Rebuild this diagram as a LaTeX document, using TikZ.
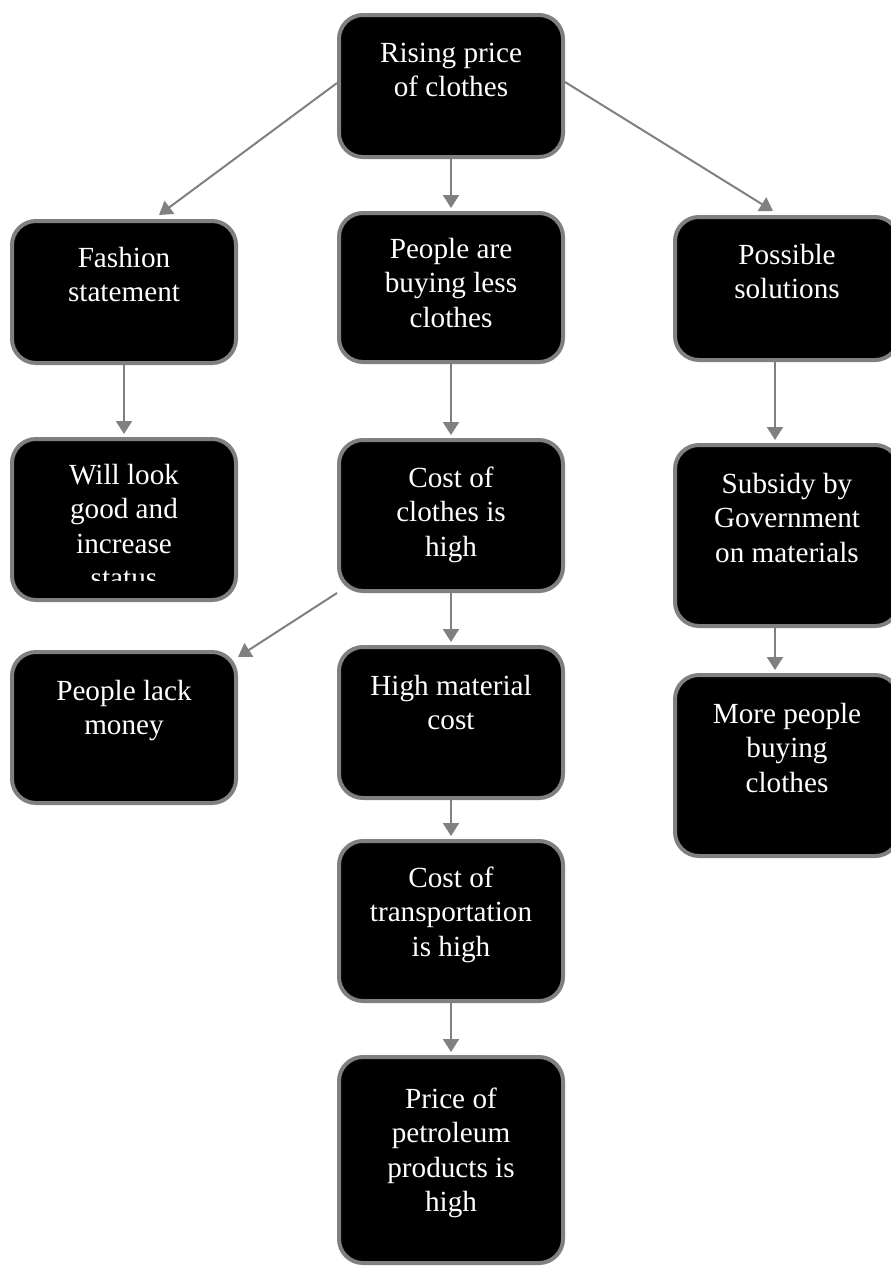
\documentclass[tikz,border=0pt]{standalone}
\usepackage{fontspec}
\setmainfont{Liberation Serif}
\usetikzlibrary{arrows.meta,calc}
\definecolor{edgegray}{HTML}{808080}
\tikzset{
  box/.style={draw=edgegray, line width=4pt, fill=black, rounded corners=24pt,
              minimum width=224pt, inner sep=0pt},
  txt/.style={text=white, align=center, inner sep=0pt, anchor=north,
              font=\fontsize{29.2}{34.5}\selectfont},
  conn/.style={draw=edgegray, line width=2pt, -{Triangle[length=13pt,width=16pt]}}
}
\newcommand{\fstrut}{\rule{0pt}{24pt}}
\begin{document}
\begin{tikzpicture}[x=1pt,y=-1pt]
\useasboundingbox (0,0) rectangle (891,1266);
% boxes
\node[box, minimum height=142pt] (b1) at (451,86) {};
\node[box, minimum height=142pt] (b2) at (124,292) {};
\node[box, minimum height=149pt] (b3) at (451,287.5) {};
\node[box, minimum height=143pt] (b4) at (787,288.5) {};
\node[box, minimum height=161pt] (b5) at (124,519.5) {};
\node[box, minimum height=151pt] (b6) at (451,515.5) {};
\node[box, minimum height=181pt] (b7) at (787,535.5) {};
\node[box, minimum height=151pt] (b8) at (124,727.5) {};
\node[box, minimum height=151pt] (b9) at (451,722.5) {};
\node[box, minimum height=181pt] (b10) at (787,765.5) {};
\node[box, minimum height=160pt] (b11) at (451,921) {};
\node[box, minimum height=206pt] (b12) at (451,1160) {};
% texts
\node[txt] (t1) at (451,38) {\fstrut Rising price\\of clothes};
\node[txt] (t2) at (124,243) {\fstrut Fashion\\statement};
\node[txt] (t3) at (451,234) {\fstrut People are\\buying less\\clothes};
\node[txt] (t4) at (787,240) {\fstrut Possible\\solutions};
\begin{scope}
  \clip (10,437) rectangle (238,580);
  \node[txt] (t5) at (124,460) {\fstrut Will look\\good and\\increase\\status};
\end{scope}
\node[txt] (t6) at (451,463) {\fstrut Cost of\\clothes is\\high};
\node[txt] (t7) at (787,469) {\fstrut Subsidy by\\Government\\on materials};
\node[txt] (t8) at (124,676) {\fstrut People lack\\money};
\node[txt] (t9) at (451,671) {\fstrut High material\\cost};
\node[txt] (t10) at (787,699) {\fstrut More people\\buying\\clothes};
\node[txt] (t11) at (451,863) {\fstrut Cost of\\transportation\\is high};
\node[txt] (t12) at (451,1084) {\fstrut Price of\\petroleum\\products is\\high};
% connectors
\draw[conn] ([yshift=3pt]b1.west) -- ([xshift=35pt,yshift=4pt]b2.north);
\draw[conn] (b1.south) -- ([yshift=3pt]b3.north);
\draw[conn] ([yshift=4pt]b1.east) -- ([xshift=-14pt,yshift=4pt]b4.north);
\draw[conn] (b2.south) -- ([yshift=3pt]b5.north);
\draw[conn] (b3.south) -- ([yshift=3pt]b6.north);
\draw[conn] ([xshift=-12pt]b4.south) -- ([xshift=-12pt,yshift=3pt]b7.north);
\draw[conn] (b6.south west) -- ([yshift=-7pt]b8.north east);
\draw[conn] (b6.south) -- ([yshift=3pt]b9.north);
\draw[conn] ([xshift=-12pt]b7.south) -- ([xshift=-12pt,yshift=3pt]b10.north);
\draw[conn] (b9.south) -- ([yshift=3pt]b11.north);
\draw[conn] (b11.south) -- ([yshift=3pt]b12.north);
\end{tikzpicture}
\end{document}
